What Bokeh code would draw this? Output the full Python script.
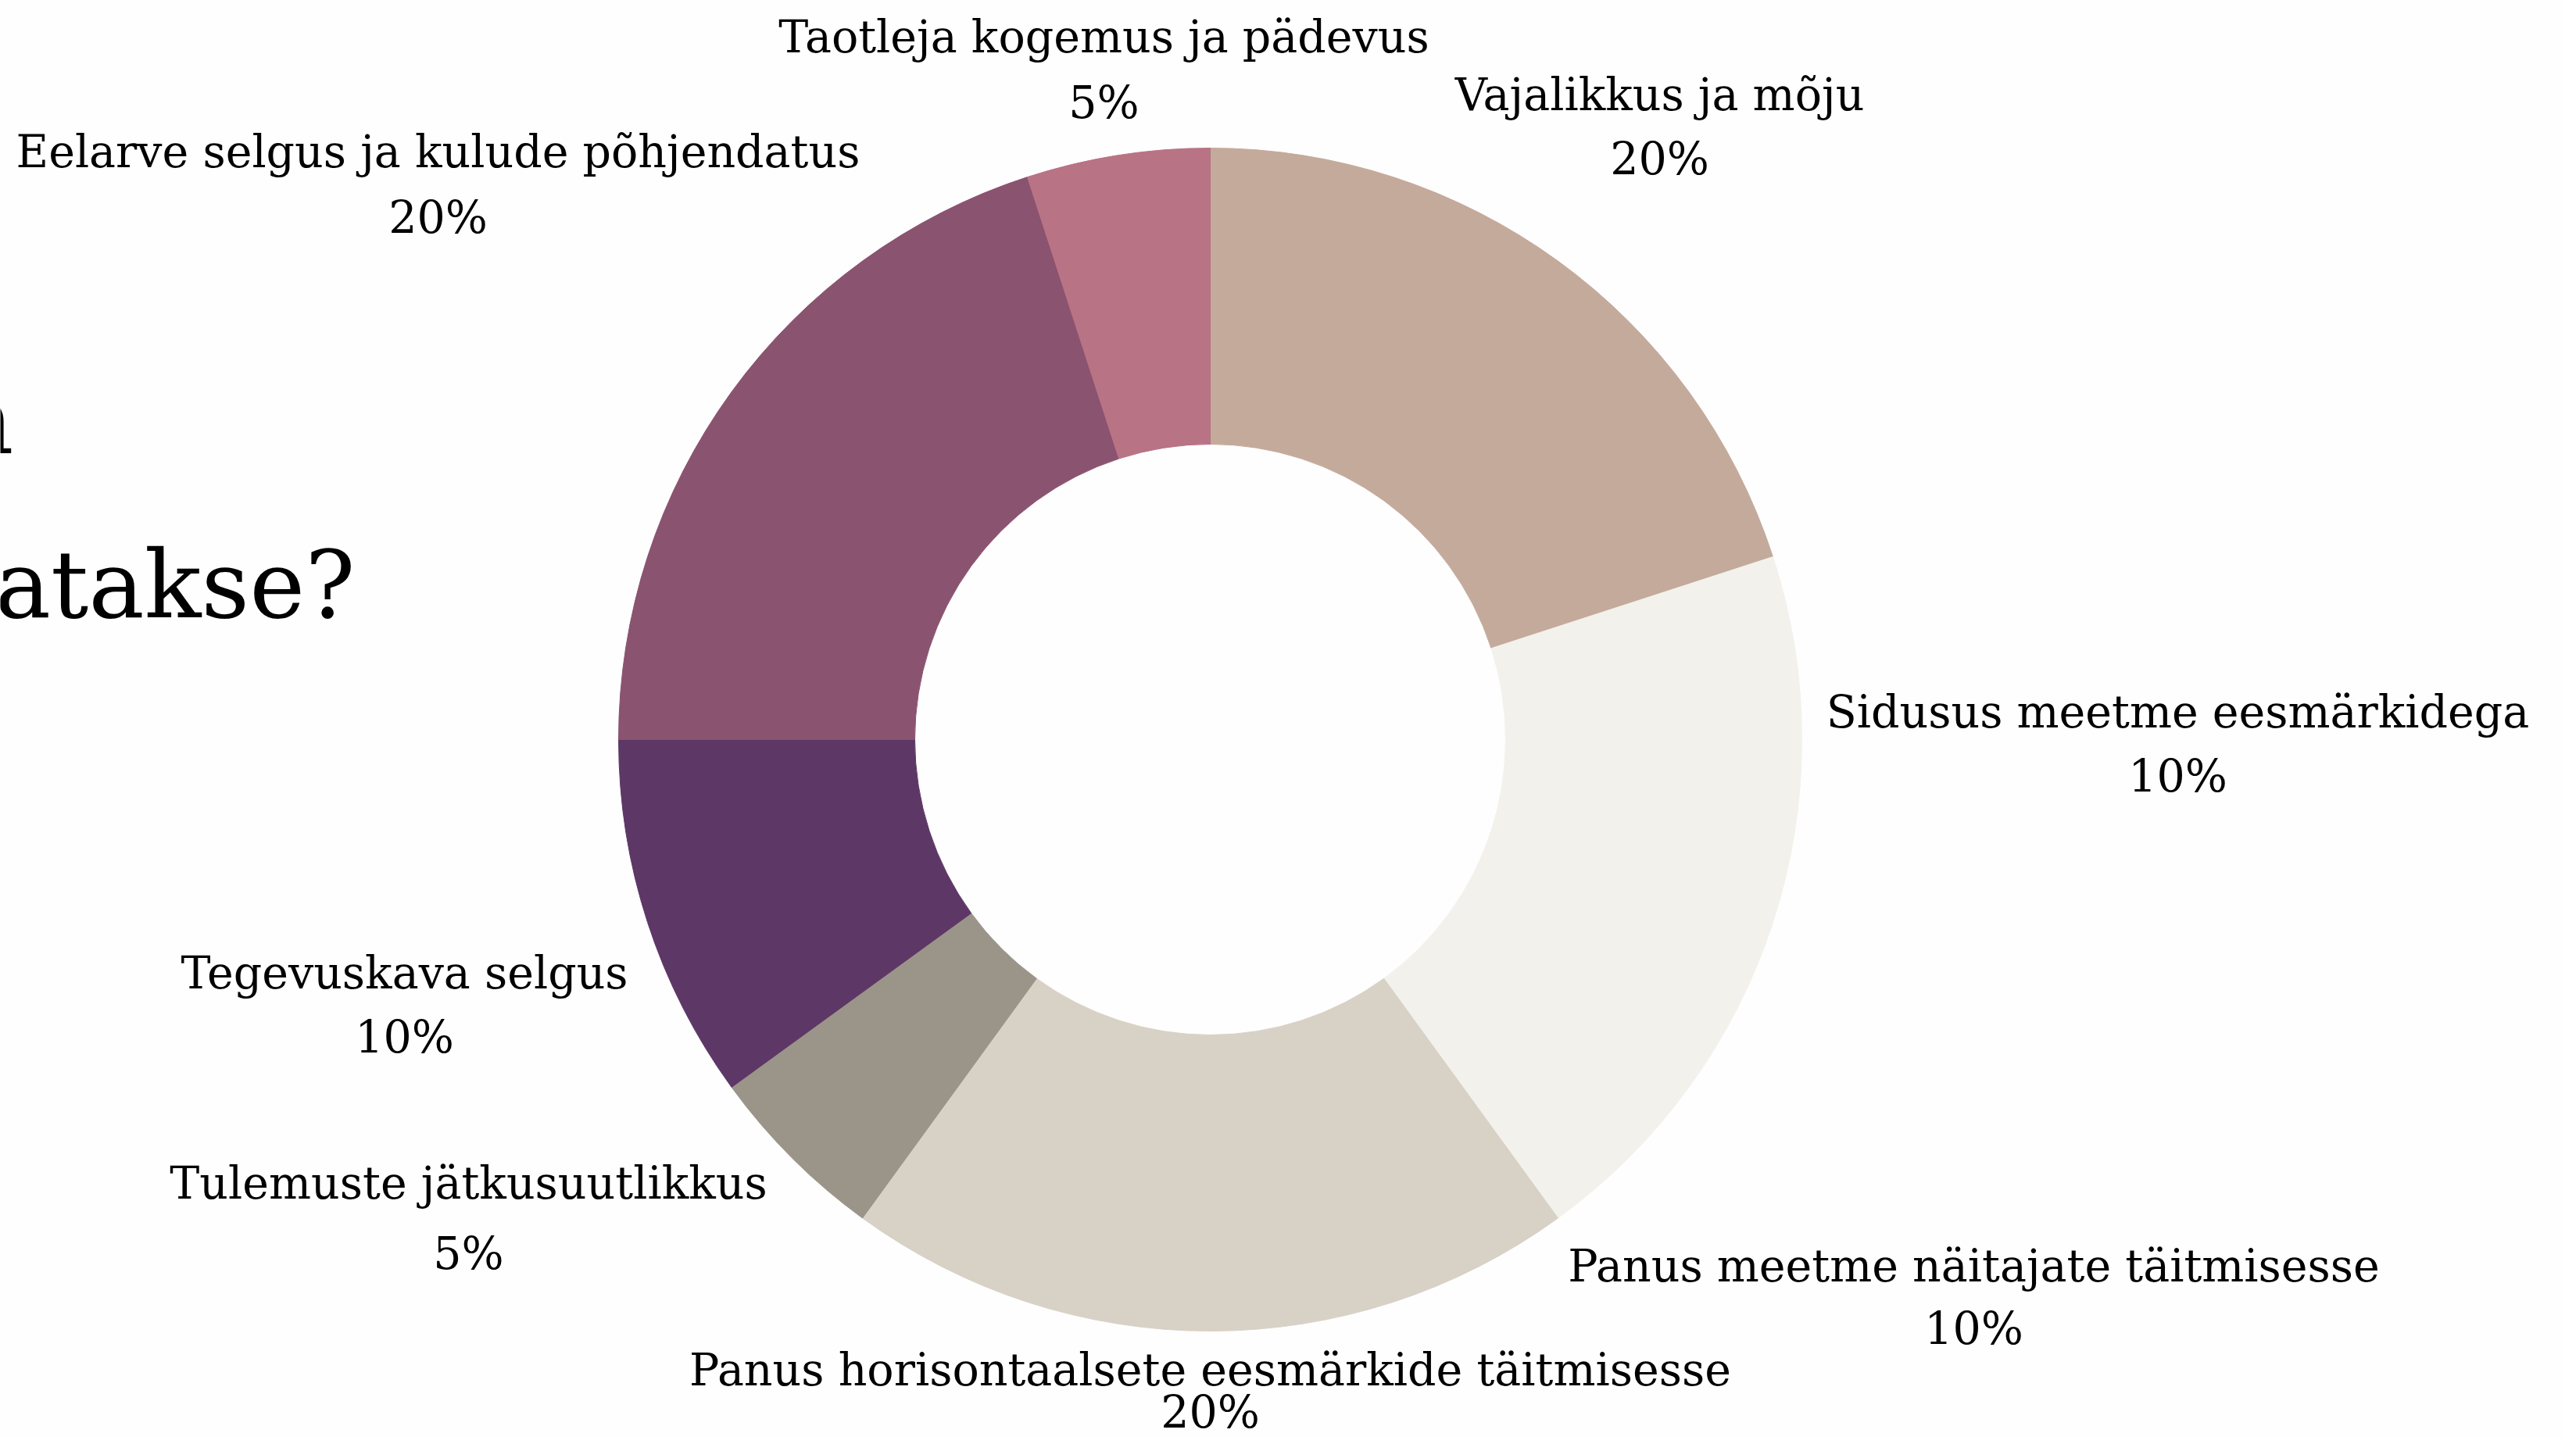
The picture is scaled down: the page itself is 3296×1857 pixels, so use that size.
import numpy as np
from bokeh.plotting import figure
from bokeh.models import Range1d, ColumnDataSource
from bokeh.core.properties import value
from bokeh.embed import file_html
from bokeh.resources import INLINE

# ---- data ----
categories = [
    "Vajalikkus ja mõju",
    "Sidusus meetme eesmärkidega",
    "Panus meetme näitajate täitmisesse",
    "Panus horisontaalsete eesmärkide täitmisesse",
    "Tulemuste jätkusuutlikkus",
    "Tegevuskava selgus",
    "Eelarve selgus ja kulude põhjendatus",
    "Taotleja kogemus ja pädevus",
]
weights = [20, 10, 10, 20, 5, 10, 20, 5]
colors = ["#c4aa9b", "#f3f1ec", "#f3f1ec", "#d8d1c6", "#9b9489", "#5d3766", "#8a5370", "#b87385"]
title_lines = ["n", "atakse?"]

# ---- layout (screen pixel positions inside the page) ----
W, H = 3280, 1841
OFF = 8
cx, cy = 1556, 946
r_out, r_in = 757, 378
# label centres: (x, y of name line, y of percent line)
label_pos = [
    (2131, 120, 202),
    (2794, 910, 992),
    (2533, 1619, 1699),
    (1556, 1752, 1806),
    (607, 1513, 1603),
    (525, 1244, 1326),
    (568, 193, 277),
    (1420, 46, 130),
]
FONT = "DejaVu Serif"


def X(sx):
    return sx


def Y(sy):
    return OFF + H - sy


p = figure(width=W, height=H, output_backend="svg", toolbar_location=None,
           x_range=Range1d(OFF, OFF + W), y_range=Range1d(OFF, OFF + H),
           min_border=0, background_fill_color="#fefefe", border_fill_color="#fefefe")
p.axis.visible = False
p.grid.visible = False
p.outline_line_color = None

total = float(sum(weights))
fr = np.array(weights) / total
cum = np.concatenate([[0.0], np.cumsum(fr)])
start = np.pi / 2 - 2 * np.pi * cum[:-1]
end = np.pi / 2 - 2 * np.pi * cum[1:]

src = ColumnDataSource(dict(start=start, end=end, color=colors,
                            x=[X(cx)] * len(weights), y=[Y(cy)] * len(weights)))
p.annular_wedge(x="x", y="y", inner_radius=r_in, outer_radius=r_out,
                start_angle="start", end_angle="end", direction="clock",
                fill_color="color", line_color="color", line_width=1, source=src)

# labels
names_x, names_y, pct_y, pct_txt = [], [], [], []
for (lx, ly1, ly2), w in zip(label_pos, weights):
    names_x.append(X(lx))
    names_y.append(Y(ly1))
    pct_y.append(Y(ly2))
    pct_txt.append(f"{int(round(w / total * 100))}%")

p.text(x=names_x, y=names_y, text=categories, text_font=value(FONT),
       text_font_size=value("57px"), text_align="center", text_baseline="middle",
       text_color="#000000")
p.text(x=names_x, y=pct_y, text=pct_txt, text_font=value(FONT),
       text_font_size=value("57px"), text_align="center", text_baseline="middle",
       text_color="#000000")

# partially hidden title at left edge
p.text(x=[X(25), X(462)], y=[Y(538), Y(748)], text=title_lines, text_font=value(FONT),
       text_font_size=value("120px"), text_align="right", text_baseline="alphabetic",
       text_color="#000000")

open("out.html", "w").write(file_html(p, INLINE))
